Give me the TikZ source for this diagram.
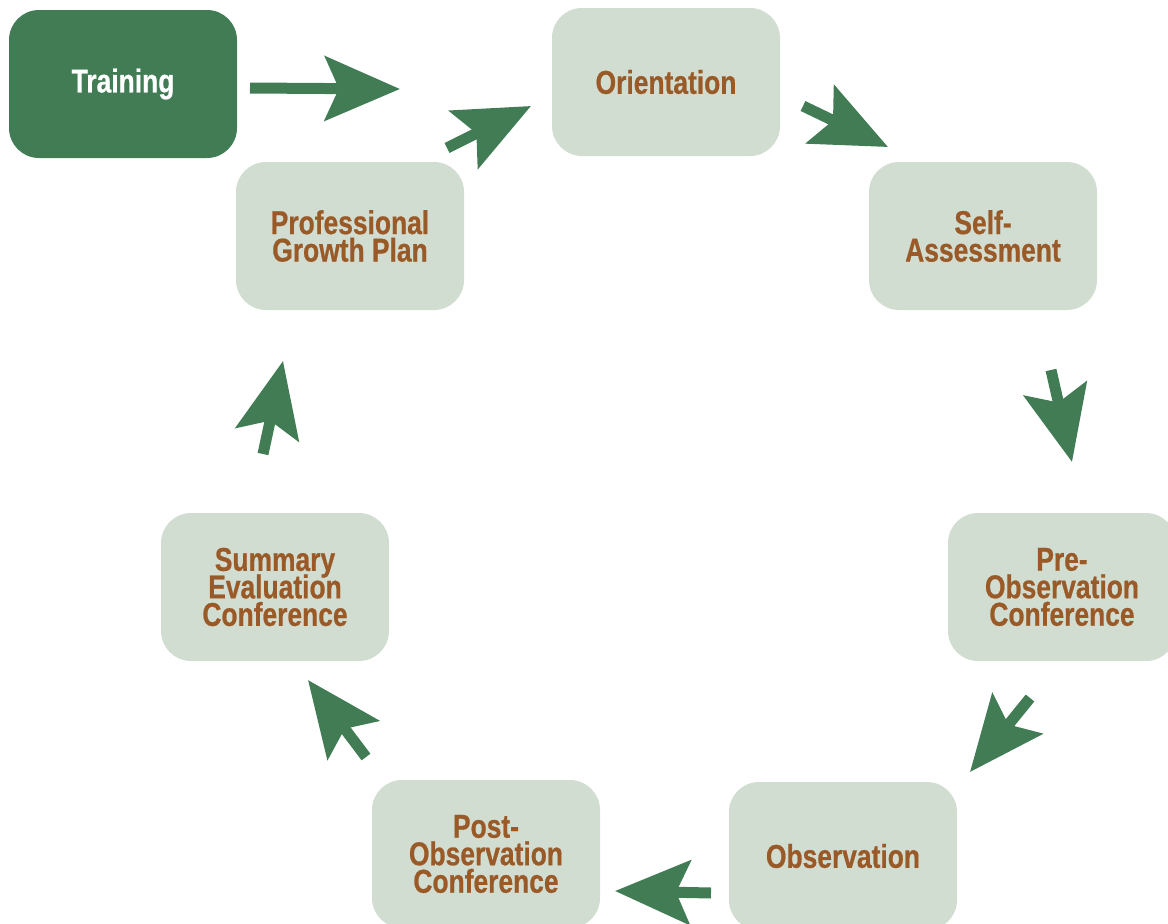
\documentclass[tikz,border=0pt]{standalone}
\usepackage{fontspec}
\setmainfont[FakeStretch=0.8,BoldFeatures={FakeBold=0.6}]{Liberation Sans}
\usetikzlibrary{arrows.meta}
\definecolor{boxfill}{HTML}{D2DDD2}
\definecolor{dkgreen}{HTML}{417C55}
\definecolor{brown}{HTML}{9A5A27}
\newcommand{\stagefont}{\fontsize{33}{27.5}\selectfont\bfseries\lineskiplimit=-100pt\relax\lineskip=0pt\relax}
\begin{document}
\begin{tikzpicture}[x=1pt,y=-1pt,
  stage/.style={rounded corners=30pt, minimum width=228pt, minimum height=148pt,
    fill=boxfill, text=brown, align=center, inner sep=0pt,
    font=\stagefont},
  startbox/.style={stage, fill=dkgreen, text=white},
  flow/.style={draw=dkgreen, line width=11pt,
    -{Stealth[length=75pt,width=64pt,inset=14pt]}}]
\useasboundingbox (0,0) rectangle (1168,924);
\node[startbox] (train) at (123,84) {Training};
\node[stage] (orient) at (666,82) {Orientation};
\node[stage] (pgp) at (350,236) {Professional\\Growth Plan};
\node[stage] (self) at (983,236) {Self-\\Assessment};
\node[stage] (pre) at (1062,587) {Pre-\\Observation\\Conference};
\node[stage] (sum) at (275,587) {Summary\\Evaluation\\Conference};
\node[stage] (obs) at (843,856) {Observation};
\node[stage] (post) at (486,854) {Post-\\Observation\\Conference};
\coordinate (a1s) at (250,88); \coordinate (a1e) at (400,89);
\coordinate (a2s) at (447,148); \coordinate (a2e) at (531,106);
\coordinate (a3s) at (803,106); \coordinate (a3e) at (888,147);
\coordinate (a4s) at (1051,370); \coordinate (a4e) at (1072,462);
\coordinate (a5s) at (1030,698); \coordinate (a5e) at (970,772);
\coordinate (a6s) at (711,893); \coordinate (a6e) at (615,891);
\coordinate (a7s) at (366,757); \coordinate (a7e) at (308,680);
\coordinate (a8s) at (263,454); \coordinate (a8e) at (283,361);
\draw[flow] (a1s) -- (a1e);
\draw[flow] (a2s) -- (a2e);
\draw[flow] (a3s) -- (a3e);
\draw[flow] (a4s) -- (a4e);
\draw[flow] (a5s) -- (a5e);
\draw[flow] (a6s) -- (a6e);
\draw[flow] (a7s) -- (a7e);
\draw[flow] (a8s) -- (a8e);
\end{tikzpicture}
\end{document}
